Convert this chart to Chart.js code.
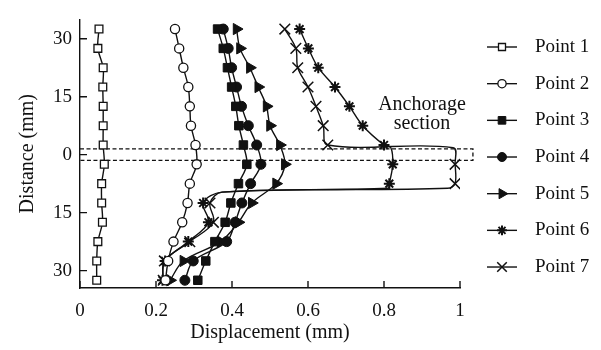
<!DOCTYPE html>
<html>
<head>
<meta charset="utf-8">
<script src="https://cdn.jsdelivr.net/npm/chart.js@4.4.1/dist/chart.umd.min.js"></script>
<style>
  body { margin: 0; background: #fff; }
  #wrap { width: 601px; height: 350px; }
</style>
</head>
<body>
<div id="wrap"><canvas id="dispChart"></canvas></div>
<script>
// measured rows (mm from anchorage centre, + above / - below)
const distance = [32.5, 27.5, 22.5, 17.5, 12.5, 7.5, 2.5, -2.5, -7.5, -12.5, -17.5, -22.5, -27.5, -32.5];
// points 6 and 7 also pass through a few unmarked bends around the anchorage
const distanceBend = [32.5, 27.5, 22.5, 17.5, 12.5, 7.5, 2.5, 1.8, -2.5, -7.5, -8.7, -9.7, -12.5, -17.5, -22.5, -27.5, -32.5];

const point1 = [0.050, 0.047, 0.061, 0.060, 0.061, 0.061, 0.061, 0.064, 0.057, 0.057, 0.059, 0.047, 0.044, 0.044];
const point2 = [0.250, 0.261, 0.272, 0.285, 0.289, 0.292, 0.304, 0.307, 0.289, 0.283, 0.269, 0.246, 0.232, 0.225];
const point3 = [0.362, 0.377, 0.388, 0.399, 0.410, 0.418, 0.430, 0.439, 0.417, 0.397, 0.382, 0.355, 0.331, 0.310];
const point4 = [0.377, 0.390, 0.399, 0.412, 0.425, 0.443, 0.465, 0.476, 0.449, 0.426, 0.408, 0.386, 0.298, 0.276];
const point5 = [0.412, 0.421, 0.447, 0.469, 0.491, 0.500, 0.526, 0.539, 0.516, 0.452, 0.417, 0.370, 0.272, 0.237];
const point6 = [0.578, 0.601, 0.627, 0.671, 0.709, 0.744, 0.800, 0.818, 0.823, 0.814, 0.811, 0.374, 0.324, 0.338, 0.285, 0.224, 0.217];
const point7 = [0.539, 0.568, 0.573, 0.600, 0.621, 0.640, 0.652, 0.982, 0.987, 0.987, 0.968, 0.374, 0.342, 0.351, 0.289, 0.222, 0.219];

const seriesNames = ['Point 1', 'Point 2', 'Point 3', 'Point 4', 'Point 5', 'Point 6', 'Point 7'];
const yTicks = [30, 15, 0, -15, -30];
const anchorage = [1.5, -1.5];   // dashed band limits (mm)
const anchorageText = ['Anchorage', 'section'];

const FONT = "'Liberation Serif', 'Times New Roman', serif";
const INK = '#111';

function pts(xs, ys) {
  return xs.map((v, i) => ({ x: v, y: ys[i] }));
}

// marker look per series
const markers = [
  { pointStyle: 'rect', radius: 5.5, fill: '#fff', rotation: 0, bw: 1.3 },
  { pointStyle: 'circle', radius: 4.6, fill: '#fff', rotation: 0, bw: 1.3 },
  { pointStyle: 'rect', radius: 6, fill: INK, rotation: 0, bw: 1 },
  { pointStyle: 'circle', radius: 5, fill: INK, rotation: 0, bw: 1 },
  { pointStyle: 'triangle', radius: 6.5, fill: INK, rotation: 90, bw: 1 },
  { pointStyle: 'star', radius: 5.5, fill: INK, rotation: 0, bw: 2 },
  { pointStyle: 'crossRot', radius: 7.5, fill: INK, rotation: 0, bw: 1.5 }
];

const seriesData = [
  pts(point1, distance), pts(point2, distance), pts(point3, distance),
  pts(point4, distance), pts(point5, distance),
  pts(point6, distanceBend), pts(point7, distanceBend)
];

const datasets = seriesData.map((d, i) => {
  const m = markers[i];
  return {
    label: seriesNames[i],
    data: d,
    showLine: true,
    tension: 0.35,
    borderColor: INK,
    borderWidth: 1.4,
    pointStyle: m.pointStyle,
    pointRotation: m.rotation,
    pointRadius: ctx => (ctx.raw && distance.includes(ctx.raw.y)) ? m.radius : 0,
    pointBackgroundColor: m.fill,
    pointBorderColor: INK,
    pointBorderWidth: m.bw
  };
});

// tick marks pointing into the plot
const innerTicks = {
  id: 'innerTicks',
  afterDraw(chart) {
    const { ctx, chartArea: a, scales: { x, y } } = chart;
    ctx.save();
    ctx.strokeStyle = INK;
    ctx.lineWidth = 1.4;
    ctx.beginPath();
    x.ticks.forEach(t => {
      const px = x.getPixelForValue(t.value);
      ctx.moveTo(px, a.bottom);
      ctx.lineTo(px, a.bottom - 7);
    });
    y.ticks.forEach(t => {
      const py = y.getPixelForValue(t.value);
      ctx.moveTo(a.left, py);
      ctx.lineTo(a.left + 7, py);
    });
    ctx.stroke();
    ctx.restore();
  }
};

// dashed anchorage band and its label
const anchorBand = {
  id: 'anchorBand',
  beforeDatasetsDraw(chart) {
    const { ctx, scales: { x, y } } = chart;
    const x0 = x.getPixelForValue(0);
    const x1 = x.getPixelForValue(1.034);
    const yA = y.getPixelForValue(anchorage[0]);
    const yB = y.getPixelForValue(anchorage[1]);
    ctx.save();
    ctx.strokeStyle = INK;
    ctx.lineWidth = 1.3;
    ctx.setLineDash([4, 2.5]);
    ctx.beginPath();
    ctx.moveTo(x0, yA);
    ctx.lineTo(x1, yA);
    ctx.lineTo(x1, yB);
    ctx.lineTo(x0, yB);
    ctx.stroke();
    ctx.setLineDash([]);
    ctx.fillStyle = INK;
    ctx.font = '20px ' + FONT;
    ctx.textAlign = 'center';
    ctx.textBaseline = 'middle';
    ctx.fillText(anchorageText[0], x.getPixelForValue(0.9), y.getPixelForValue(12.9));
    ctx.fillText(anchorageText[1], x.getPixelForValue(0.9), y.getPixelForValue(8.0));
    ctx.restore();
  }
};

// legend: short line with the marker on it
const lineLegend = {
  id: 'lineLegend',
  afterDraw(chart) {
    const { ctx } = chart;
    ctx.save();
    ctx.font = '19px ' + FONT;
    ctx.textBaseline = 'middle';
    ctx.textAlign = 'left';
    seriesNames.forEach((name, i) => {
      const yy = 47 + i * 36.67;
      const m = markers[i];
      ctx.strokeStyle = INK;
      ctx.lineWidth = 1.4;
      ctx.beginPath();
      ctx.moveTo(487, yy);
      ctx.lineTo(517, yy);
      ctx.stroke();
      ctx.fillStyle = m.fill;
      ctx.lineWidth = m.bw;
      Chart.helpers.drawPoint(ctx, {
        pointStyle: m.pointStyle,
        rotation: m.rotation,
        radius: m.radius * 0.9,
        borderWidth: m.bw
      }, 502, yy);
      ctx.fillStyle = INK;
      ctx.fillText(name, 535, yy);
    });
    ctx.restore();
  }
};

new Chart(document.getElementById('dispChart'), {
  type: 'scatter',
  data: { datasets },
  options: {
    responsive: true,
    maintainAspectRatio: false,
    animation: false,
    layout: { padding: { top: 5, right: 141, left: 0, bottom: 0 } },
    plugins: {
      legend: { display: false },
      tooltip: { enabled: false }
    },
    scales: {
      x: {
        type: 'linear',
        min: 0,
        max: 1,
        afterFit: s => { s.height = 62; },
        grid: { display: false, drawTicks: false },
        border: { display: true, color: INK, width: 1.4 },
        ticks: {
          stepSize: 0.2,
          padding: 12,
          color: INK,
          font: { family: FONT, size: 19 },
          callback: v => String(Math.round(v * 10) / 10)
        },
        title: {
          display: true,
          text: 'Displacement (mm)',
          color: INK,
          font: { family: FONT, size: 20 },
          padding: { top: 0, bottom: 5 }
        }
      },
      y: {
        type: 'linear',
        min: -34.5,
        max: 35,
        afterFit: s => { s.width = 80; },
        afterBuildTicks: s => { s.ticks = yTicks.map(v => ({ value: v })); },
        grid: { display: false, drawTicks: false },
        border: { display: true, color: INK, width: 1.4 },
        ticks: {
          padding: 8,
          color: INK,
          font: { family: FONT, size: 19 },
          callback: v => Math.abs(v)
        },
        title: {
          display: true,
          text: 'Distance (mm)',
          color: INK,
          font: { family: FONT, size: 20 },
          padding: { top: 16, bottom: 0 }
        }
      }
    }
  },
  plugins: [innerTicks, anchorBand, lineLegend]
});
</script>
</body>
</html>
